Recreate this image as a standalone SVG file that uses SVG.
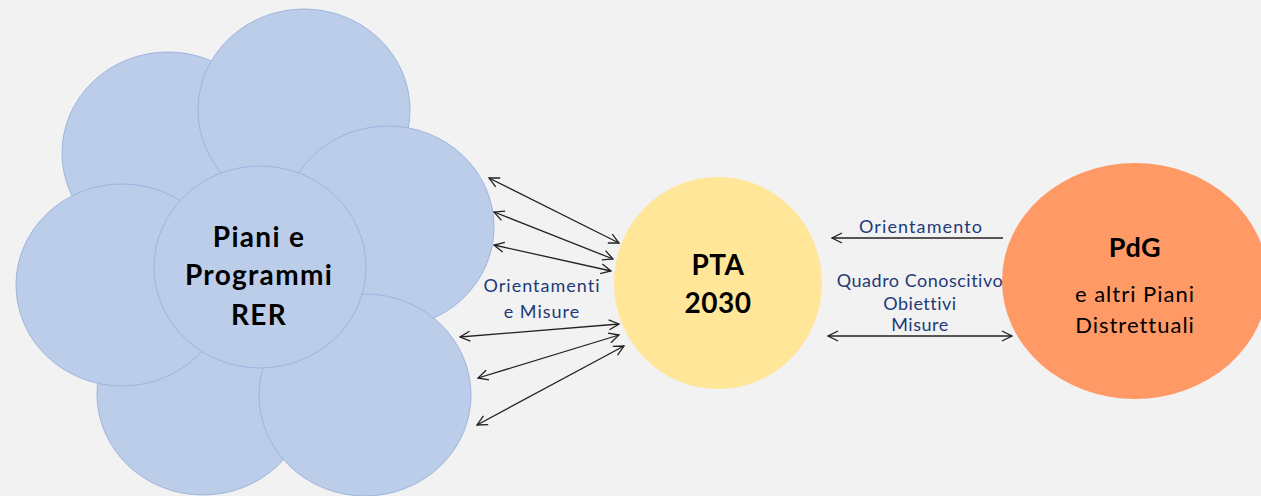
<svg xmlns="http://www.w3.org/2000/svg" width="1261" height="496" viewBox="0 0 1261 496">
<style>
.pet{fill:#BCCDE9;stroke:#9DB5DE;stroke-width:1}
.t{font-family:Lato,"Liberation Sans",sans-serif;text-anchor:middle}
.b{font-weight:bold;fill:#000}
.lbl{fill:#1F3A78;font-size:18px}
.c{stroke:#222;stroke-width:1.3;fill:none;marker-start:url(#ah);marker-end:url(#ah)}
</style>
<defs>
<marker id="ah" viewBox="0 0 12 12" refX="11" refY="6" markerWidth="12" markerHeight="12" markerUnits="userSpaceOnUse" orient="auto-start-reverse">
<path d="M1,1 L11,6 L1,11" fill="none" stroke="#222" stroke-width="1.3"/>
</marker>
</defs>
<rect width="1261" height="496" fill="#F2F2F2"/>
<g id="rer">
<ellipse class="pet" cx="168" cy="153" rx="106" ry="101"/>
<ellipse class="pet" cx="304" cy="110" rx="106" ry="101"/>
<ellipse class="pet" cx="388" cy="227" rx="106" ry="101"/>
<ellipse class="pet" cx="203" cy="394" rx="106" ry="101"/>
<ellipse class="pet" cx="122" cy="285" rx="106" ry="101"/>
<ellipse class="pet" cx="365" cy="395" rx="106" ry="101"/>
<ellipse class="pet" cx="260" cy="267" rx="106" ry="101"/>
<text class="t b" font-size="28" letter-spacing="1.3"><tspan x="259" y="247">Piani e</tspan><tspan x="259" y="285">Programmi</tspan><tspan x="259" y="325">RER</tspan></text>
</g>
<g id="pta">
<ellipse cx="718" cy="283" rx="104" ry="106" fill="#FFE699"/>
<text class="t b" font-size="28" letter-spacing="0.5"><tspan x="718" y="275">PTA</tspan><tspan x="718" y="313">2030</tspan></text>
</g>
<g id="pdg">
<ellipse cx="1135" cy="281" rx="133" ry="118" fill="#FF9966"/>
<text class="t b" font-size="27" letter-spacing="0.5" x="1135" y="257">PdG</text>
<text class="t" font-size="22" letter-spacing="1" fill="#000"><tspan x="1135" y="302">e altri Piani</tspan><tspan x="1135" y="333">Distrettuali</tspan></text>
</g>
<g id="connectors">
<line class="c" x1="489" y1="178" x2="619" y2="243"/>
<line class="c" x1="494" y1="212" x2="613" y2="259"/>
<line class="c" x1="494" y1="245" x2="611" y2="271"/>
<line class="c" x1="460" y1="337" x2="619" y2="324"/>
<line class="c" x1="478" y1="378" x2="619" y2="335"/>
<line class="c" x1="477" y1="425" x2="624" y2="346"/>
<line x1="1003" y1="238" x2="832" y2="238" stroke="#222" stroke-width="1.3" marker-end="url(#ah)"/>
<line class="c" x1="828" y1="336" x2="1012" y2="336"/>
</g>
<g id="labels">
<text class="t lbl" letter-spacing="1"><tspan x="542" y="292">Orientamenti</tspan><tspan x="542" y="318">e Misure</tspan></text>
<text class="t lbl" letter-spacing="1.1" x="921" y="233">Orientamento</text>
<text class="t lbl" letter-spacing="0.5"><tspan x="920" y="287">Quadro Conoscitivo</tspan><tspan x="920" y="310">Obiettivi</tspan><tspan x="920" y="331">Misure</tspan></text>
</g>
</svg>
